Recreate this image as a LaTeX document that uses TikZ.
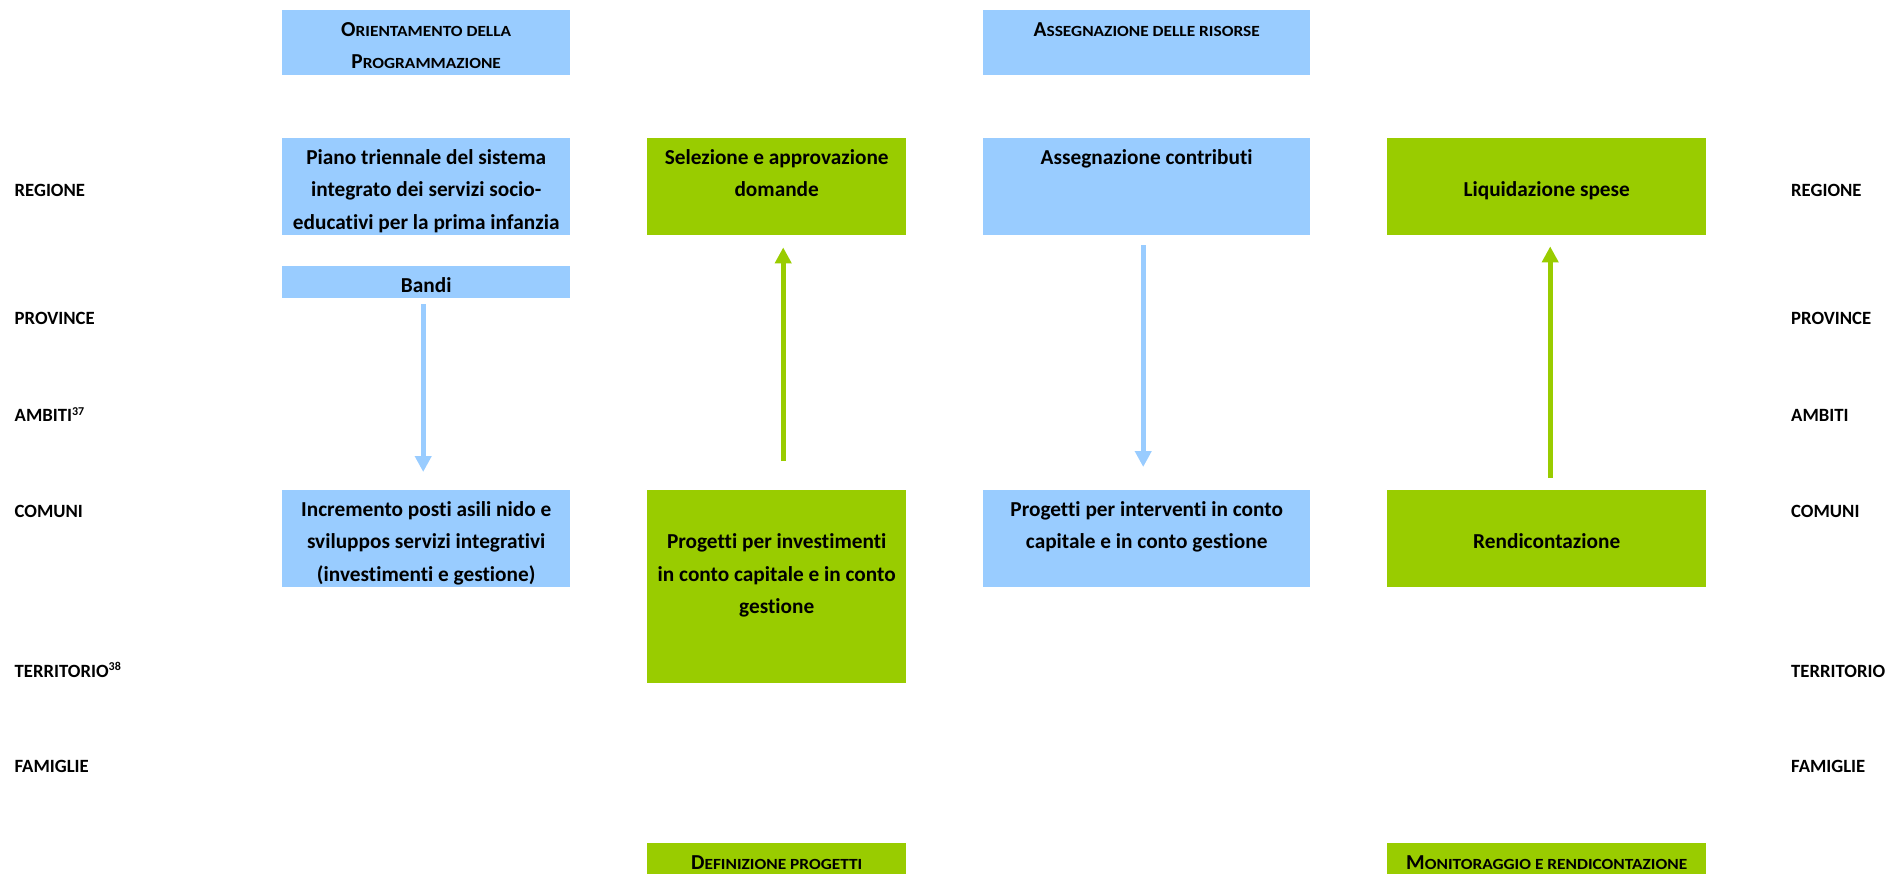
\documentclass[tikz,border=0pt]{standalone}
\usepackage{fontspec}
\setmainfont{Carlito}[Ligatures=NoCommon]
\usetikzlibrary{arrows.meta}
\definecolor{lblue}{HTML}{99CCFF}
\definecolor{lgreen}{HTML}{99CC00}
\newcommand\fsc[1]{{\fontsize{15.5}{15.5}\selectfont\addfontfeature{FakeStretch=1.12}#1}}
\newcommand\boxtext[3]{\parbox[c][#1][t]{#2}{\centering\rule{0pt}{26pt}#3\par}}
\begin{document}
\begin{tikzpicture}[x=1pt,y=-1pt,
  every node/.style={font=\fontsize{21.3}{32.5}\selectfont\bfseries},
  bluebox/.style={fill=lblue, inner sep=0pt, anchor=north west},
  greenbox/.style={fill=lgreen, inner sep=0pt, anchor=north west},
  level/.style={anchor=base west, inner sep=0pt, font=\fontsize{18.7}{22}\selectfont\bfseries},
  bluearrow/.style={draw=lblue, line width=5pt, -{Triangle[width=16pt,length=16pt]}},
  greenarrow/.style={draw=lgreen, line width=5pt, -{Triangle[width=16pt,length=16pt]}}]
\useasboundingbox (0,0) rectangle (1901,873);

% headers
\node[bluebox] (orient) at (282,10) {\boxtext{65pt}{288pt}{O\fsc{RIENTAMENTO DELLA}\\P\fsc{ROGRAMMAZIONE}}};
\node[bluebox] (assris) at (983,10) {\boxtext{65pt}{327pt}{A\fsc{SSEGNAZIONE DELLE RISORSE}}};

% row 1
\node[bluebox] (piano) at (282,138) {\boxtext{97pt}{288pt}{Piano triennale del sistema\\integrato dei servizi socio-\\educativi per la prima infanzia}};
\node[greenbox] (sel) at (647,138) {\boxtext{97pt}{259pt}{Selezione e approvazione\\domande}};
\node[bluebox] (asscontr) at (983,138) {\boxtext{97pt}{327pt}{Assegnazione contributi}};
\node[greenbox] (liq) at (1387,138) {\boxtext{97pt}{319pt}{\\Liquidazione spese}};
\node[bluebox] (bandi) at (282,266) {\boxtext{32pt}{288pt}{Bandi}};

% row 2
\node[bluebox] (incr) at (282,490) {\boxtext{97pt}{288pt}{Incremento posti asili nido e\\sviluppos servizi integrativi\\(investimenti e gestione)}};
\node[greenbox] (proginv) at (647,490) {\boxtext{193pt}{259pt}{\\Progetti per investimenti\\in conto capitale e in conto\\gestione}};
\node[bluebox] (progint) at (983,490) {\boxtext{97pt}{327pt}{Progetti per interventi in conto\\capitale e in conto gestione}};
\node[greenbox] (rend) at (1387,490) {\boxtext{97pt}{319pt}{\\Rendicontazione}};

% footers
\node[greenbox] (defin) at (647,843) {\boxtext{32pt}{259pt}{D\fsc{EFINIZIONE PROGETTI}}};
\node[greenbox] (monit) at (1387,843) {\boxtext{32pt}{319pt}{M\fsc{ONITORAGGIO E RENDICONTAZIONE}}};

% level labels left
\node[level] (lreg) at (14.5,196.5) {REGIONE};
\node[level] (lprov) at (14.5,324) {PROVINCE};
\node[level] (lamb) at (14.5,421.5) {AMBITI\textsuperscript{\fontsize{12}{12}\selectfont 37}};
\node[level] (lcom) at (14.5,517) {COMUNI};
\node[level] (lterr) at (14.5,677) {TERRITORIO\textsuperscript{\fontsize{12}{12}\selectfont 38}};
\node[level] (lfam) at (14.5,772.5) {FAMIGLIE};
% level labels right
\node[level] (rreg) at (1791,196.5) {REGIONE};
\node[level] (rprov) at (1791,324) {PROVINCE};
\node[level] (ramb) at (1791,421.5) {AMBITI};
\node[level] (rcom) at (1791,517) {COMUNI};
\node[level] (rterr) at (1791,677) {TERRITORIO};
\node[level] (rfam) at (1791,772.5) {FAMIGLIE};

% arrows
\draw[bluearrow, shorten <=6pt, shorten >=18pt] ([xshift=-3pt]bandi.south) -- ([xshift=-3pt]incr.north);
\draw[greenarrow, shorten <=29pt, shorten >=12pt] ([xshift=6.5pt]proginv.north) -- ([xshift=6.5pt]sel.south);
\draw[bluearrow, shorten <=10pt, shorten >=23pt] ([xshift=-3.5pt]asscontr.south) -- ([xshift=-3.5pt]progint.north);
\draw[greenarrow, shorten <=12pt, shorten >=11pt] ([xshift=3.5pt]rend.north) -- ([xshift=3.5pt]liq.south);
\end{tikzpicture}
\end{document}
